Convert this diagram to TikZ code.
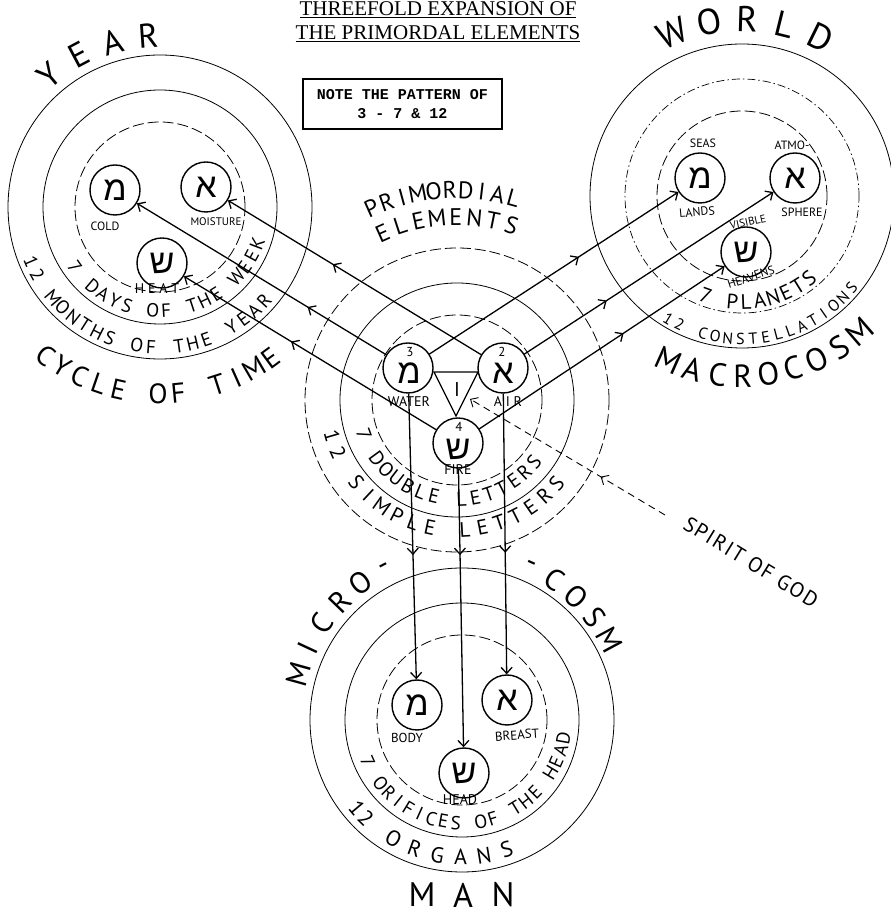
\documentclass[tikz,border=0pt]{standalone}
\usepackage{fontspec}
\setmainfont{Liberation Serif}
\newfontfamily\hand{PT Sans}
\newfontfamily\heb{Liberation Sans}
\newfontfamily\typew{Liberation Mono}
\usetikzlibrary{calc,arrows.meta,decorations.markings}

% #1 name prefix, #2 centre, #3 radius, #4 start angle, #5 step, #6 rotation offset, #7 letters, #8 font size
\newcommand{\arcword}[8]{%
  \foreach \ch [count=\i] in {#7} {%
    \pgfmathsetmacro{\ang}{#4+(\i-1)*(#5)}%
    \pgfmathsetmacro{\rot}{\ang+(#6)}%
    \node[arcl=#8, rotate=\rot] (#1-\i) at ($(#2)+(\ang:#3)$) {\ch};
  }}

\tikzset{
  arcl/.style={font=\hand\fontsize{#1}{#1}\selectfont, inner sep=0pt},
  lbl/.style={font=\hand\fontsize{#1}{#1}\selectfont, inner sep=0pt},
  elem/.style={circle, draw, fill=white, line width=1.4pt, minimum size=50pt, inner sep=0pt,
    font=\heb\fontsize{34}{34}\selectfont},
  hebl/.style={font=\heb\fontsize{34}{34}\selectfont, inner sep=0pt},
  ringsolid/.style={line width=0.8pt},
  ringdash/.style={line width=0.8pt, dash pattern=on 11pt off 4pt},
  ringdot/.style={line width=0.7pt, dash pattern=on 8pt off 3pt on 1.5pt off 3pt},
  conn/.style={line width=1.3pt, -{Straight Barb[length=6pt,width=11pt]}},
  mid/.style={postaction={decorate}, decoration={markings,
      mark=at position #1 with {\arrow{Straight Barb[length=6pt,width=11pt]}}}},
  spirit/.style={line width=0.9pt, dash pattern=on 7pt off 5pt,
      -{Straight Barb[length=6pt,width=11pt]}},
  tri/.style={line width=1.3pt},
  titlef/.style={font=\fontsize{21}{24}\selectfont, inner sep=0pt},
  notebox/.style={draw, line width=1.6pt, minimum width=199pt, minimum height=50pt,
      align=center, inner sep=0pt, font=\typew\bfseries\fontsize{15}{19}\selectfont}
}

\begin{document}
\begin{tikzpicture}[x=1pt,y=1pt]
\useasboundingbox (0,0) rectangle (891,916);
\fill[white] (0,0) rectangle (891,916);

% group centres
\coordinate (yc) at (160,709);
\coordinate (cc) at (457,516);
\coordinate (wc) at (742,720);
\coordinate (mc) at (462,196);

% rings
\draw[ringsolid] (yc) circle[radius=152pt];
\draw[ringsolid] (yc) circle[radius=117pt];
\draw[ringdash]  (yc) circle[radius=85pt];

\draw[ringdash]  (cc) circle[radius=152pt];
\draw[ringsolid] (cc) circle[radius=117pt];
\draw[ringdash]  (cc) circle[radius=85pt];

\draw[ringsolid] (wc) circle[radius=152pt];
\draw[ringdot]   (wc) circle[radius=117pt];
\draw[ringdash]  (wc) circle[radius=85pt];

\draw[ringsolid] (mc) circle[radius=152pt];
\draw[ringsolid] (mc) circle[radius=117pt];
\draw[ringdash]  (mc) circle[radius=85pt];

% title and note
\node[titlef, anchor=base] (title1) at (438,900) {\underline{THREEFOLD EXPANSION OF}};
\node[titlef, anchor=base] (title2) at (438,876) {\underline{THE PRIMORDAL ELEMENTS}};
\node[notebox] (note) at (402.5,812) {NOTE THE PATTERN OF\\3 - 7 \& 12};

% element circles
\node[elem] (ym) at (115,726) {מ};
\node[elem] (ya) at (206,729) {א};
\node[elem] (ys) at (162,653) {ש};

\node[elem] (cm) at (408,548) {};
\node[elem] (ca) at (503,548) {};
\node[elem] (cs) at (458,473) {};
\node[hebl] (cmL) at (409,543) {מ};
\node[hebl] (caL) at (503,543) {א};
\node[hebl] (csL) at (458,467) {ש};
\node[lbl=13] (cmN) at (410,564) {3};
\node[lbl=13] (caN) at (502,564) {2};
\node[lbl=13] (csN) at (459,489) {4};

\node[elem] (wm) at (700,738) {מ};
\node[elem] (wa) at (795,738) {א};
\node[elem] (ws) at (746,664) {ש};

\node[elem] (mm) at (417,211) {מ};
\node[elem] (ma) at (507,216) {א};
\node[elem] (ms) at (464,143) {ש};

% triangle
\coordinate (t1) at (434,544);
\coordinate (t2) at (478,544);
\coordinate (t3) at (456,500);
\draw[tri] (t1) -- (t2) -- (t3) -- cycle;
\node[lbl=20] (one) at (457,526) {I};

% small labels
\node[lbl=12] (cold) at (105,690) {COLD};
\node[lbl=11] (moist) at (216,694) {MOISTURE};
\node[lbl=14] (heat) at (157,627) {H E A T};
\node[lbl=14] (water) at (409,514) {WATER};
\node[lbl=14] (air) at (508,514) {A I R};
\node[lbl=14] (fire) at (458,446) {FIRE};
\node[lbl=12] (seas) at (703,773) {SEAS};
\node[lbl=12, rotate=5] (lands) at (697,704) {LANDS};
\node[lbl=12] (atmo) at (792,771) {ATMO-};
\node[lbl=12] (sphere) at (802,704) {SPHERE};
\node[lbl=11, rotate=12] (visible) at (748,694) {VISIBLE};
\node[lbl=12, rotate=18] (heavens) at (751,639) {HEAVENS};
\node[lbl=13] (body) at (407,178) {BODY};
\node[lbl=13, rotate=4] (breast) at (517,181) {BREAST};
\node[lbl=14] (head) at (460,116) {HEAD};

% curved texts
\arcword{yr}{yc}{172pt}{130}{-12}{-90}{Y,E,A,R}{34}
\arcword{ct}{yc}{187pt}{232.5}{6.15}{90}{C,Y,C,L,E,{},O,F,{},T,I,M,E}{28}
\arcword{mo}{yc}{140pt}{203}{5.75}{90}{1,2,{},M,O,N,T,H,S,{},O,F,{},T,H,E,{},Y,E,A,R}{19}
\arcword{dw}{yc}{104pt}{215}{7.3}{90}{7,{},D,A,Y,S,{},O,F,{},T,H,E,{},W,E,E,K}{19}

\arcword{wo}{wc}{177pt}{113}{-12.3}{-90}{W,O,R,L,D}{36}
\arcword{mac}{wc}{180pt}{246}{8.1}{90}{M,A,C,R,O,C,O,S,M}{32}
\arcword{pl}{wc}{106pt}{250}{7.4}{90}{7,{},P,L,A,N,E,T,S}{21}
\arcword{con}{wc}{143pt}{239}{5.06}{90}{1,2,{},C,O,N,S,T,E,L,L,A,T,I,O,N,S}{16}

\arcword{pr}{cc}{210pt}{114}{-4.4}{-90}{P,R,I,M,O,R,D,I,A,L}{24}
\arcword{el}{cc}{183pt}{114}{-5.9}{-90}{E,L,E,M,E,N,T,S}{24}
\arcword{db}{cc}{99pt}{200}{8.07}{90}{7,{},D,O,U,B,L,E,{},L,E,T,T,E,R,S}{20}
\arcword{sm}{cc}{130pt}{196}{7.75}{90}{1,2,{},S,I,M,P,L,E,{},L,E,T,T,E,R,S}{21}

\arcword{mi}{mc}{170pt}{164.5}{-9.5}{-90}{M,I,C,R,O,-}{30}
\arcword{cosm}{mc}{168pt}{66}{-9.4}{-90}{-,C,O,S,M}{30}
\arcword{or}{mc}{103pt}{204}{6.95}{90}{7,{},O,R,I,F,I,C,E,S,{},O,F,{},T,H,E,{},H,E,A,D}{19}
\arcword{ot}{mc}{137pt}{220}{5.5}{90}{1,2}{22}
\arcword{og}{mc}{137pt}{240}{9.8}{90}{O,R,G,A,N,S}{22}

% MAN
\node[lbl=34] (man1) at (422,21) {M};
\node[lbl=34] (man2) at (463,21) {A};
\node[lbl=34] (man3) at (503,21) {N};

% spirit of god
\node[lbl=21, rotate=-31.5] (spirit) at (751,354) {\addfontfeature{LetterSpace=8}SPIRIT OF GOD};
\coordinate (sgs) at (665,401);
\coordinate (sgi) at (470,517);
\draw[spirit, mid=0.33] (sgs) -- (sgi);

% connectors to YEAR
\draw[conn, mid=0.586] (ca) -- (ya);
\draw[conn, mid=0.315] (cm) -- (ym);
\draw[conn, mid=0.575] (cs) -- (ys);
% connectors to WORLD
\draw[conn, mid=0.60] (cm) -- (wm);
\draw[conn, mid=0.33] (ca) -- (wa);
\draw[conn, mid=0.588] (cs) -- (ws);
% connectors to MAN
\draw[conn, mid=0.565] (cm) -- (mm);
\draw[conn, mid=0.31] (cs) -- (ms);
\draw[conn, mid=0.567] (ca) -- (ma);
\end{tikzpicture}
\end{document}
